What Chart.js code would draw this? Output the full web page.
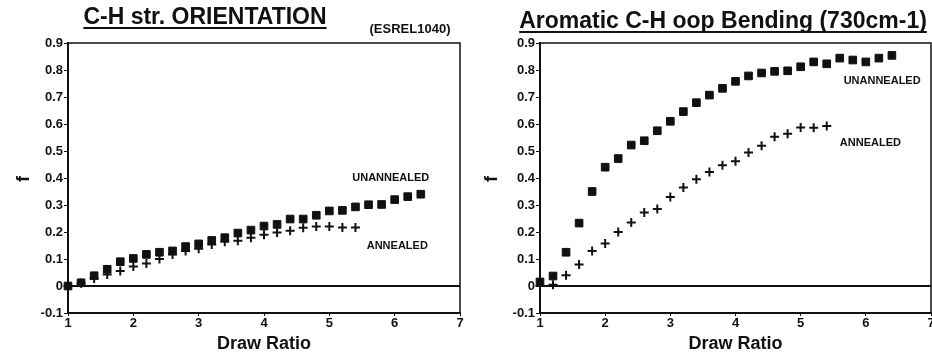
<!DOCTYPE html>
<html>
<head>
<meta charset="utf-8">
<script src="https://cdn.jsdelivr.net/npm/chart.js@4"></script>
<style>
body { margin: 0; background: #fff; }
#wrap { position: relative; width: 932px; height: 358px; background: #fff; }
canvas { position: absolute; top: 0; }
#left { left: 0; }
#right { left: 466px; }
</style>
</head>
<body>
<div id="wrap">
  <canvas id="left" width="466" height="358"></canvas>
  <canvas id="right" width="466" height="358"></canvas>
</div>
<script>
// draw ratio for each measured sample
const drawRatio = [1.0, 1.2, 1.4, 1.6, 1.8, 2.0, 2.2, 2.4, 2.6, 2.8, 3.0, 3.2, 3.4, 3.6,
                   3.8, 4.0, 4.2, 4.4, 4.6, 4.8, 5.0, 5.2, 5.4, 5.6, 5.8, 6.0, 6.2, 6.4];

// C-H str. orientation
const chUnannealed = [0, 0.012, 0.038, 0.062, 0.09, 0.102, 0.117, 0.125, 0.13, 0.146, 0.156, 0.169, 0.179, 0.196,
                      0.207, 0.222, 0.228, 0.248, 0.248, 0.262, 0.278, 0.28, 0.293, 0.301, 0.302, 0.32, 0.331, 0.34];
const chAnnealed = [0, 0.01, 0.028, 0.043, 0.056, 0.072, 0.083, 0.1, 0.117, 0.13, 0.138, 0.154, 0.164, 0.168,
                    0.179, 0.19, 0.198, 0.205, 0.216, 0.22, 0.22, 0.217, 0.217];

// aromatic C-H oop bending (730cm-1)
const oopUnannealed = [0.015, 0.037, 0.125, 0.233, 0.35, 0.44, 0.472, 0.522, 0.538, 0.575, 0.61, 0.646, 0.679, 0.707,
                       0.732, 0.758, 0.778, 0.789, 0.795, 0.797, 0.812, 0.83, 0.823, 0.844, 0.837, 0.83, 0.844, 0.854];
const oopAnnealed = [0, 0.005, 0.04, 0.08, 0.13, 0.157, 0.2, 0.235, 0.272, 0.285, 0.33, 0.365, 0.395, 0.422,
                     0.447, 0.462, 0.494, 0.519, 0.553, 0.564, 0.587, 0.586, 0.593];

const xTicks = [1, 2, 3, 4, 5, 6, 7];
const yTicks = [-0.1, 0, 0.1, 0.2, 0.3, 0.4, 0.5, 0.6, 0.7, 0.8, 0.9];

const INK = '#111';
const FONT = '"Liberation Sans", Arial, sans-serif';

function toPoints(vals) {
    return vals.map((v, i) => ({ x: drawRatio[i], y: v }));
}

function makePanel(id, p) {
    const decor = {
        id: 'decor',
        beforeDatasetsDraw(chart) {
            const { ctx, chartArea: a, scales: { y } } = chart;
            ctx.save();
            ctx.strokeStyle = INK;
            ctx.lineWidth = 2;
            const y0 = y.getPixelForValue(0);
            ctx.beginPath();
            ctx.moveTo(a.left, y0);
            ctx.lineTo(a.right, y0);
            ctx.stroke();
            ctx.lineWidth = 1.5;
            ctx.beginPath();
            ctx.moveTo(a.left, a.top);
            ctx.lineTo(a.right, a.top);
            ctx.lineTo(a.right, a.bottom);
            ctx.stroke();
            ctx.restore();
        },
        afterDraw(chart) {
            const { ctx, scales: { x, y } } = chart;
            ctx.save();
            ctx.fillStyle = INK;
            ctx.strokeStyle = INK;

            // title, underlined
            ctx.font = 'bold 23px ' + FONT;
            ctx.textAlign = 'center';
            ctx.textBaseline = 'alphabetic';
            ctx.fillText(p.title, p.titleX, p.titleY);
            const w = ctx.measureText(p.title).width;
            ctx.lineWidth = 2;
            ctx.beginPath();
            ctx.moveTo(p.titleX - w / 2, p.titleY + 4);
            ctx.lineTo(p.titleX + w / 2, p.titleY + 4);
            ctx.stroke();

            if (p.note) {
                ctx.font = 'bold 13px ' + FONT;
                ctx.fillText(p.note, p.noteX, p.noteY);
            }

            // series labels
            ctx.font = 'bold 11px ' + FONT;
            ctx.textBaseline = 'middle';
            p.labels.forEach(l => {
                ctx.fillText(l.text, x.getPixelForValue(l.x), y.getPixelForValue(l.y));
            });

            // y axis name
            ctx.font = 'bold 18px ' + FONT;
            ctx.translate(p.fX, 179);
            ctx.rotate(-Math.PI / 2);
            ctx.fillText('f', 0, 0);
            ctx.restore();
        }
    };

    return new Chart(document.getElementById(id), {
        type: 'scatter',
        data: {
            datasets: [
                {
                    label: 'UNANNEALED',
                    data: toPoints(p.unannealed),
                    pointStyle: 'rect',
                    pointRadius: 5.4,
                    backgroundColor: INK,
                    borderColor: INK,
                    borderWidth: 1,
                    clip: false
                },
                {
                    label: 'ANNEALED',
                    data: toPoints(p.annealed),
                    pointStyle: 'cross',
                    pointRadius: 4.5,
                    backgroundColor: INK,
                    borderColor: INK,
                    borderWidth: 2,
                    clip: false
                }
            ]
        },
        options: {
            responsive: false,
            animation: false,
            layout: { autoPadding: false, padding: { left: 0, right: p.padRight, top: 43, bottom: 0 } },
            plugins: { legend: { display: false }, tooltip: { enabled: false } },
            scales: {
                x: {
                    type: 'linear',
                    min: xTicks[0],
                    max: xTicks[xTicks.length - 1],
                    afterBuildTicks: s => { s.ticks = xTicks.map(v => ({ value: v })); },
                    afterFit: s => { s.height = 45; s.paddingLeft = 0; s.paddingRight = 0; },
                    ticks: { color: INK, font: { family: FONT, size: 13, weight: 'bold' }, padding: 0 },
                    grid: { drawOnChartArea: false, tickLength: 3, color: INK },
                    border: { color: INK, width: 2 },
                    title: {
                        display: true,
                        text: 'Draw Ratio',
                        color: INK,
                        font: { family: FONT, size: 18, weight: 'bold' },
                        padding: { top: 0, bottom: 3 }
                    }
                },
                y: {
                    min: yTicks[0],
                    max: yTicks[yTicks.length - 1],
                    afterBuildTicks: s => { s.ticks = yTicks.map(v => ({ value: v })); },
                    afterFit: s => { s.width = p.yWidth; s.paddingTop = 0; s.paddingBottom = 0; },
                    ticks: {
                        color: INK,
                        font: { family: FONT, size: 13, weight: 'bold' },
                        padding: 1,
                        callback: v => (Math.abs(v) < 1e-9 ? '0' : v.toFixed(1))
                    },
                    grid: { drawOnChartArea: false, tickLength: 4, color: INK },
                    border: { color: INK, width: 2 }
                }
            }
        },
        plugins: [decor]
    });
}

makePanel('left', {
    title: 'C-H str. ORIENTATION',
    titleX: 205, titleY: 24,
    note: '(ESREL1040)', noteX: 410, noteY: 33,
    unannealed: chUnannealed,
    annealed: chAnnealed,
    labels: [
        { text: 'UNANNEALED', x: 5.94, y: 0.40 },
        { text: 'ANNEALED', x: 6.04, y: 0.148 }
    ],
    fX: 24, yWidth: 68, padRight: 6
});

makePanel('right', {
    title: 'Aromatic C-H oop Bending (730cm-1)',
    titleX: 257, titleY: 28,
    unannealed: oopUnannealed,
    annealed: oopAnnealed,
    labels: [
        { text: 'UNANNEALED', x: 6.25, y: 0.759 },
        { text: 'ANNEALED', x: 6.07, y: 0.531 }
    ],
    fX: 26, yWidth: 74, padRight: 1
});
</script>
</body>
</html>
